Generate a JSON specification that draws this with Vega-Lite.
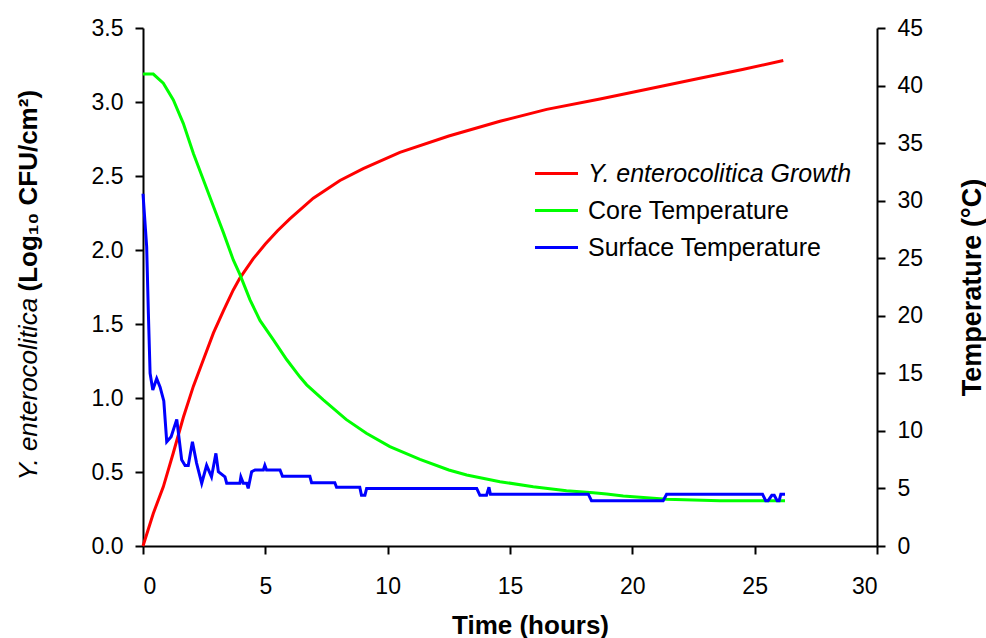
{
  "$schema": "https://vega.github.io/schema/vega-lite/v6.json",
  "width": 734,
  "height": 518,
  "autosize": {"type": "none"},
  "padding": {"left": 143, "top": 28, "right": 109, "bottom": 92},
  "background": "white",
  "config": {
    "view": {"stroke": null},
    "font": "Liberation Sans",
    "axis": {
      "grid": false,
      "domainColor": "black",
      "domainWidth": 2,
      "tickColor": "black",
      "tickWidth": 2,
      "tickSize": 8,
      "labelFont": "Liberation Sans",
      "labelFontSize": 23,
      "labelColor": "black",
      "labelPadding": 12,
      "titleFont": "Liberation Sans",
      "titleFontSize": 26,
      "titleFontWeight": "bold",
      "titleColor": "black"
    },
    "legend": {
      "labelFont": "Liberation Sans",
      "labelFontSize": 25,
      "labelColor": "black"
    }
  },
  "data": {
    "values": [
      {"series": "Y. enterocolitica Growth", "t": 0, "v": 0.0},
      {"series": "Y. enterocolitica Growth", "t": 0.42, "v": 0.22},
      {"series": "Y. enterocolitica Growth", "t": 0.83, "v": 0.4},
      {"series": "Y. enterocolitica Growth", "t": 1.24, "v": 0.63},
      {"series": "Y. enterocolitica Growth", "t": 1.65, "v": 0.87},
      {"series": "Y. enterocolitica Growth", "t": 2.06, "v": 1.08},
      {"series": "Y. enterocolitica Growth", "t": 2.47, "v": 1.26},
      {"series": "Y. enterocolitica Growth", "t": 2.88, "v": 1.44},
      {"series": "Y. enterocolitica Growth", "t": 3.29, "v": 1.59},
      {"series": "Y. enterocolitica Growth", "t": 3.69, "v": 1.73},
      {"series": "Y. enterocolitica Growth", "t": 3.96, "v": 1.81},
      {"series": "Y. enterocolitica Growth", "t": 4.5, "v": 1.94},
      {"series": "Y. enterocolitica Growth", "t": 5.0, "v": 2.04},
      {"series": "Y. enterocolitica Growth", "t": 5.5, "v": 2.13},
      {"series": "Y. enterocolitica Growth", "t": 6.0, "v": 2.21},
      {"series": "Y. enterocolitica Growth", "t": 6.96, "v": 2.35},
      {"series": "Y. enterocolitica Growth", "t": 8.05, "v": 2.47},
      {"series": "Y. enterocolitica Growth", "t": 9.0, "v": 2.55},
      {"series": "Y. enterocolitica Growth", "t": 10.5, "v": 2.66},
      {"series": "Y. enterocolitica Growth", "t": 12.5, "v": 2.77},
      {"series": "Y. enterocolitica Growth", "t": 14.59, "v": 2.87},
      {"series": "Y. enterocolitica Growth", "t": 16.5, "v": 2.95},
      {"series": "Y. enterocolitica Growth", "t": 18.68, "v": 3.02},
      {"series": "Y. enterocolitica Growth", "t": 20.7, "v": 3.09},
      {"series": "Y. enterocolitica Growth", "t": 22.76, "v": 3.16},
      {"series": "Y. enterocolitica Growth", "t": 24.5, "v": 3.22},
      {"series": "Y. enterocolitica Growth", "t": 26.17, "v": 3.28},

      {"series": "Core Temperature", "t": 0, "v": 41.0},
      {"series": "Core Temperature", "t": 0.42, "v": 41.0},
      {"series": "Core Temperature", "t": 0.83, "v": 40.2},
      {"series": "Core Temperature", "t": 1.24, "v": 38.75},
      {"series": "Core Temperature", "t": 1.65, "v": 36.7},
      {"series": "Core Temperature", "t": 2.06, "v": 34.1},
      {"series": "Core Temperature", "t": 2.47, "v": 31.8},
      {"series": "Core Temperature", "t": 2.88, "v": 29.5},
      {"series": "Core Temperature", "t": 3.29, "v": 27.2},
      {"series": "Core Temperature", "t": 3.69, "v": 24.85},
      {"series": "Core Temperature", "t": 3.96, "v": 23.6},
      {"series": "Core Temperature", "t": 4.37, "v": 21.4},
      {"series": "Core Temperature", "t": 4.78, "v": 19.6},
      {"series": "Core Temperature", "t": 5.33, "v": 17.9},
      {"series": "Core Temperature", "t": 5.87, "v": 16.2},
      {"series": "Core Temperature", "t": 6.41, "v": 14.7},
      {"series": "Core Temperature", "t": 6.69, "v": 14.0},
      {"series": "Core Temperature", "t": 7.37, "v": 12.7},
      {"series": "Core Temperature", "t": 8.3, "v": 11.0},
      {"series": "Core Temperature", "t": 9.13, "v": 9.8},
      {"series": "Core Temperature", "t": 10.09, "v": 8.63},
      {"series": "Core Temperature", "t": 11.32, "v": 7.53},
      {"series": "Core Temperature", "t": 12.5, "v": 6.6},
      {"series": "Core Temperature", "t": 13.23, "v": 6.17},
      {"series": "Core Temperature", "t": 14.59, "v": 5.59},
      {"series": "Core Temperature", "t": 15.95, "v": 5.15},
      {"series": "Core Temperature", "t": 17.31, "v": 4.8},
      {"series": "Core Temperature", "t": 18.4, "v": 4.63},
      {"series": "Core Temperature", "t": 18.95, "v": 4.52},
      {"series": "Core Temperature", "t": 19.63, "v": 4.34},
      {"series": "Core Temperature", "t": 20.86, "v": 4.14},
      {"series": "Core Temperature", "t": 21.4, "v": 4.06},
      {"series": "Core Temperature", "t": 23.58, "v": 3.94},
      {"series": "Core Temperature", "t": 26.24, "v": 3.94},

      {"series": "Surface Temperature", "t": 0, "v": 30.6},
      {"series": "Surface Temperature", "t": 0.15, "v": 26.0},
      {"series": "Surface Temperature", "t": 0.22, "v": 20.2},
      {"series": "Surface Temperature", "t": 0.29, "v": 15.0},
      {"series": "Surface Temperature", "t": 0.4, "v": 13.55},
      {"series": "Surface Temperature", "t": 0.56, "v": 14.55},
      {"series": "Surface Temperature", "t": 0.7, "v": 13.8},
      {"series": "Surface Temperature", "t": 0.85, "v": 12.6},
      {"series": "Surface Temperature", "t": 0.97, "v": 9.06},
      {"series": "Surface Temperature", "t": 1.15, "v": 9.5},
      {"series": "Surface Temperature", "t": 1.38, "v": 11.0},
      {"series": "Surface Temperature", "t": 1.58, "v": 7.5},
      {"series": "Surface Temperature", "t": 1.72, "v": 7.0},
      {"series": "Surface Temperature", "t": 1.85, "v": 7.0},
      {"series": "Surface Temperature", "t": 2.02, "v": 9.06},
      {"series": "Surface Temperature", "t": 2.19, "v": 7.2},
      {"series": "Surface Temperature", "t": 2.4, "v": 5.45},
      {"series": "Surface Temperature", "t": 2.6, "v": 7.0},
      {"series": "Surface Temperature", "t": 2.8, "v": 6.0},
      {"series": "Surface Temperature", "t": 2.98, "v": 8.05},
      {"series": "Surface Temperature", "t": 3.08, "v": 6.45},
      {"series": "Surface Temperature", "t": 3.35, "v": 6.0},
      {"series": "Surface Temperature", "t": 3.42, "v": 5.45},
      {"series": "Surface Temperature", "t": 3.96, "v": 5.45},
      {"series": "Surface Temperature", "t": 4.0, "v": 6.0},
      {"series": "Surface Temperature", "t": 4.1, "v": 5.45},
      {"series": "Surface Temperature", "t": 4.24, "v": 5.45},
      {"series": "Surface Temperature", "t": 4.3, "v": 5.0},
      {"series": "Surface Temperature", "t": 4.44, "v": 6.45},
      {"series": "Surface Temperature", "t": 4.58, "v": 6.6},
      {"series": "Surface Temperature", "t": 4.92, "v": 6.6},
      {"series": "Surface Temperature", "t": 4.98, "v": 7.0},
      {"series": "Surface Temperature", "t": 5.05, "v": 6.6},
      {"series": "Surface Temperature", "t": 5.6, "v": 6.6},
      {"series": "Surface Temperature", "t": 5.7, "v": 6.05},
      {"series": "Surface Temperature", "t": 6.82, "v": 6.05},
      {"series": "Surface Temperature", "t": 6.89, "v": 5.5},
      {"series": "Surface Temperature", "t": 7.84, "v": 5.5},
      {"series": "Surface Temperature", "t": 7.91, "v": 5.1},
      {"series": "Surface Temperature", "t": 8.86, "v": 5.1},
      {"series": "Surface Temperature", "t": 8.93, "v": 4.4},
      {"series": "Surface Temperature", "t": 9.07, "v": 4.4},
      {"series": "Surface Temperature", "t": 9.14, "v": 5.0},
      {"series": "Surface Temperature", "t": 13.64, "v": 5.0},
      {"series": "Surface Temperature", "t": 13.77, "v": 4.4},
      {"series": "Surface Temperature", "t": 14.04, "v": 4.4},
      {"series": "Surface Temperature", "t": 14.14, "v": 5.1},
      {"series": "Surface Temperature", "t": 14.2, "v": 4.5},
      {"series": "Surface Temperature", "t": 18.2, "v": 4.5},
      {"series": "Surface Temperature", "t": 18.33, "v": 3.94},
      {"series": "Surface Temperature", "t": 21.26, "v": 3.94},
      {"series": "Surface Temperature", "t": 21.4, "v": 4.5},
      {"series": "Surface Temperature", "t": 25.32, "v": 4.5},
      {"series": "Surface Temperature", "t": 25.45, "v": 3.94},
      {"series": "Surface Temperature", "t": 25.55, "v": 3.94},
      {"series": "Surface Temperature", "t": 25.7, "v": 4.4},
      {"series": "Surface Temperature", "t": 25.8, "v": 4.4},
      {"series": "Surface Temperature", "t": 25.92, "v": 3.94},
      {"series": "Surface Temperature", "t": 26.0, "v": 3.94},
      {"series": "Surface Temperature", "t": 26.07, "v": 4.5},
      {"series": "Surface Temperature", "t": 26.24, "v": 4.5}
    ]
  },
  "encoding": {
    "x": {
      "field": "t",
      "type": "quantitative",
      "scale": {"domain": [0, 30], "nice": false, "zero": false},
      "axis": {"values": [0, 5, 10, 15, 20, 25, 30], "title": "Time (hours)", "labelPadding": 21, "titlePadding": 14, "titleX": 387}
    },
    "color": {
      "field": "series",
      "type": "nominal",
      "scale": {
        "domain": ["Y. enterocolitica Growth", "Core Temperature", "Surface Temperature"],
        "range": ["#FF0000", "#00FF00", "#0000FF"]
      },
      "legend": {
        "title": null,
        "orient": "none",
        "legendX": 390,
        "legendY": 122,
        "symbolType": "stroke",
        "symbolStrokeWidth": 3,
        "symbolSize": 1850,
        "rowPadding": -4,
        "labelOffset": 8,
        "labelLimit": 500,
        "labelFontStyle": {"expr": "datum.label == 'Y. enterocolitica Growth' ? 'italic' : 'normal'"}
      }
    }
  },
  "layer": [
    {
      "transform": [{"filter": "datum.series == 'Y. enterocolitica Growth'"}],
      "mark": {"type": "line", "strokeWidth": 3},
      "encoding": {
        "y": {
          "field": "v",
          "type": "quantitative",
          "scale": {"domain": [0, 3.5], "nice": false},
          "axis": {
            "orient": "left",
            "values": [0, 0.5, 1, 1.5, 2, 2.5, 3, 3.5],
            "format": ".1f",
            "title": "(Log₁₀ CFU/cm²)",
            "titleFontSize": 26,
            "titleX": -115,
            "titleY": 263,
            "titleAngle": -90,
            "titleAlign": "left",
            "titleBaseline": "middle"
          }
        }
      }
    },
    {
      "transform": [{"filter": "datum.series != 'Y. enterocolitica Growth'"}],
      "mark": {"type": "line", "strokeWidth": 3},
      "encoding": {
        "y": {
          "field": "v",
          "type": "quantitative",
          "scale": {"domain": [0, 45], "nice": false},
          "axis": {
            "orient": "right",
            "values": [0, 5, 10, 15, 20, 25, 30, 35, 40, 45],
            "title": "Temperature (°C)",
            "titleFontSize": 27,
            "titleAngle": -90,
            "titlePadding": 64
          }
        }
      }
    },
    {
      "transform": [{"filter": "datum.series == 'Y. enterocolitica Growth'"}],
      "mark": {"type": "line", "strokeWidth": 3, "opacity": 0},
      "encoding": {
        "y": {
          "field": "v",
          "type": "quantitative",
          "scale": {"domain": [0, 3.5], "nice": false},
          "axis": {
            "orient": "left",
            "labels": false,
            "ticks": false,
            "domain": false,
            "title": "Y. enterocolitica",
            "titleFontSize": 26,
            "titleFontStyle": "italic",
            "titleFontWeight": "normal",
            "titleX": -115,
            "titleY": 452,
            "titleAngle": -90,
            "titleAlign": "left",
            "titleBaseline": "middle"
          }
        }
      }
    }
  ],
  "resolve": {"scale": {"y": "independent"}}
}
